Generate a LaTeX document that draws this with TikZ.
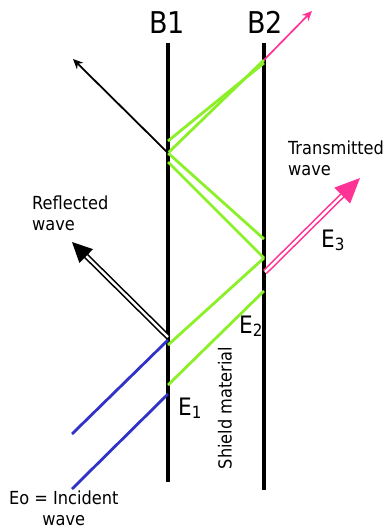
\documentclass[tikz,border=0pt]{standalone}
\usepackage{fontspec}
\setmainfont{DejaVu Sans Condensed}
\usetikzlibrary{arrows.meta}
\definecolor{wavegreen}{RGB}{140,240,40}
\definecolor{incblue}{RGB}{50,50,200}
\definecolor{transpink}{RGB}{255,50,150}

\begin{document}
\begin{tikzpicture}[x=1pt,y=-1pt,
  wall/.style={line width=3.4pt},
  ray/.style={wavegreen,line width=2.8pt},
  inc/.style={incblue,line width=2.8pt},
  txt/.style={font=\fontsize{18}{21}\selectfont,inner sep=0pt,align=left},
  big/.style={font=\fontsize{24}{26}\selectfont,inner sep=0pt}]
\useasboundingbox (0,0) rectangle (390,530);
% shield walls
\coordinate (b1top) at (168,43);
\coordinate (b1bot) at (168,482);
\coordinate (b2top) at (264,43);
\coordinate (b2bot) at (264,490);
\draw[wall] (b1top) -- (b1bot);
\draw[wall] (b2top) -- (b2bot);
\node[font=\fontsize{30}{32}\selectfont,inner sep=0pt,anchor=base] (b1) at (167,33) {B1};
\node[font=\fontsize{30}{32}\selectfont,inner sep=0pt,anchor=base] (b2) at (265,33) {B2};
% incident wave
\coordinate (i1) at (72,434);
\coordinate (h1) at (168,340);
\coordinate (i2) at (72,489);
\coordinate (h2) at (168,394);
\draw[inc] (i1) -- (h1);
\draw[inc] (i2) -- (h2);
% reflections inside the shield
\coordinate (a1) at (168,345);
\coordinate (a2) at (264,258);
\coordinate (c1) at (168,385);
\coordinate (c2) at (264,291);
\coordinate (d1) at (168,153);
\coordinate (d2) at (264,239);
\coordinate (f1) at (168,162);
\coordinate (g1) at (168,141);
\coordinate (g2) at (264,60);
\coordinate (g3) at (264,63);
\draw[ray] (a1) -- (a2);
\draw[ray] (c1) -- (c2);
\draw[ray] (d1) -- (d2);
\draw[ray] (f1) -- (a2);
\draw[ray] (d1) -- (g2);
\draw[ray] (g1) -- (g3);
% reflected and transmitted
\coordinate (r1) at (168,337);
\coordinate (r2) at (72,242);
\draw[line width=1.6pt,double,double distance=2.4pt,-{Triangle[length=20pt,width=19pt]}] (r1) -- (r2);
\coordinate (k1) at (73,59);
\draw[line width=1.8pt,-{Stealth[length=10pt,width=9pt]}] (d1) -- (k1);
\coordinate (t1) at (312,11);
\draw[transpink,line width=1.7pt,-{Stealth[length=10pt,width=9pt]}] (g2) -- (t1);
\coordinate (s1) at (265,272);
\coordinate (s2) at (360,178);
\draw[transpink,line width=1.6pt,double,double distance=2.4pt,-{Triangle[length=25pt,width=22pt]}] (s1) -- (s2);
% labels
\node[txt,anchor=north west] (refl) at (32,196) {Reflected\\wave};
\node[txt,anchor=north west] (trans) at (288,141) {Transmitted\\wave};
\node[txt,anchor=north west,align=center] (eo) at (9,491) {Eo = Incident\\wave};
\node[txt,rotate=90] (shield) at (225,408) {Shield material};
\node[big,anchor=base west] (e1) at (178,415) {E\textsubscript{1}};
\node[big,anchor=base west] (e2) at (239,333) {E\textsubscript{2}};
\node[big,anchor=base west] (e3) at (321,247) {E\textsubscript{3}};
\end{tikzpicture}
\end{document}
